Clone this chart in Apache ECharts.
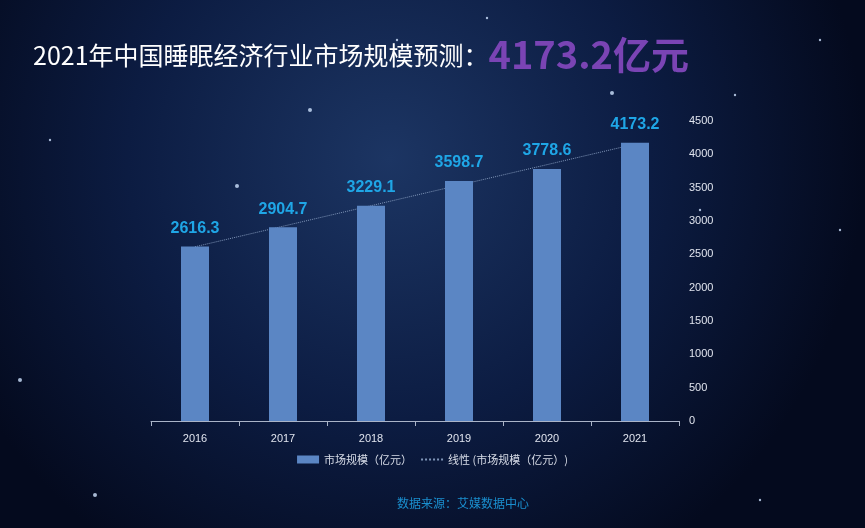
<!DOCTYPE html>
<html><head><meta charset="utf-8">
<script src="https://cdn.jsdelivr.net/npm/echarts@6/dist/echarts.min.js"></script>
<style>html,body{margin:0;padding:0;background:#06102a}#c{width:865px;height:528px}</style>
</head><body><div id="c"></div>
<script>
var years = ['2016', '2017', '2018', '2019', '2020', '2021'];
var marketSize = [2616.3, 2904.7, 3229.1, 3598.7, 3778.6, 4173.2];
var trendLine = [2613.7, 2921.6, 3229.4, 3537.3, 3845.2, 4153.1];

var chart = echarts.init(document.getElementById('c'));
var stars = [[237,186],[397,40],[487,18],[612,93],[735,95],[840,230],[95,495],[760,500],[50,140],[310,110],[540,300],[700,210],[20,380],[820,40]];
chart.setOption({
  backgroundColor: {
    type: 'radial', x: 0.45, y: 0.3, r: 0.9,
    colorStops: [{ offset: 0, color: '#1c3563' }, { offset: 0.55, color: '#0c1c42' }, { offset: 1, color: '#040a1e' }]
  },
  graphic: stars.map(function (s, i) {
    return { type: 'circle', shape: { cx: s[0], cy: s[1], r: i % 3 ? 1.2 : 2 }, style: { fill: '#cfe4ff', opacity: 0.8 }, silent: true };
  }).concat([{
    type: 'text', left: 33, top: 36,
    style: {
      text: '{a|2021年中国睡眠经济行业市场规模预测：}{b|4173.2亿元}',
      rich: {
        a: { fill: '#ffffff', fontSize: 25, fontFamily: 'Noto Sans CJK SC' },
        b: { fill: '#7a44b4', fontSize: 38, fontWeight: 'bold', fontFamily: 'Noto Sans CJK SC' }
      }
    }
  }, {
    type: 'text', left: 397, top: 497,
    style: { text: '数据来源：艾媒数据中心', fill: '#1a8fcf', fontSize: 12, fontFamily: 'Noto Sans CJK SC' }
  }]),
  legend: {
    bottom: 58, left: 'center', itemWidth: 22, itemHeight: 8, itemGap: 8,
    textStyle: { color: '#d8dde8', fontSize: 11, fontFamily: 'Noto Sans CJK SC' },
    data: [{ name: '市场规模（亿元）', icon: 'rect' }, { name: '线性 (市场规模（亿元）)', itemStyle: { opacity: 0 } }]
  },
  grid: { left: 151, right: 186, top: 121, bottom: 107 },
  xAxis: {
    type: 'category', data: years,
    axisLine: { lineStyle: { color: '#aab4c8' } },
    axisTick: { show: true, lineStyle: { color: '#aab4c8' } },
    axisLabel: { color: '#e0e4ee', fontSize: 11, margin: 12 }
  },
  yAxis: {
    type: 'value', position: 'right', min: 0, max: 4500, interval: 500,
    splitLine: { show: false }, axisLine: { show: false },
    axisLabel: { color: '#e0e4ee', fontSize: 11, margin: 10, formatter: function (v) { return String(v); } }
  },
  series: [{
    name: '市场规模（亿元）', type: 'bar', data: marketSize, barWidth: 28,
    itemStyle: { color: '#5b86c4' },
    label: { show: true, position: 'top', distance: 10, color: '#1fa6e6', fontSize: 16, fontWeight: 'bold' }
  }, {
    name: '线性 (市场规模（亿元）)', type: 'line', data: trendLine, symbol: 'none',
    lineStyle: { color: '#7f95b8', width: 1, type: 'dotted' }, z: 1
  }]
});
</script></body></html>
